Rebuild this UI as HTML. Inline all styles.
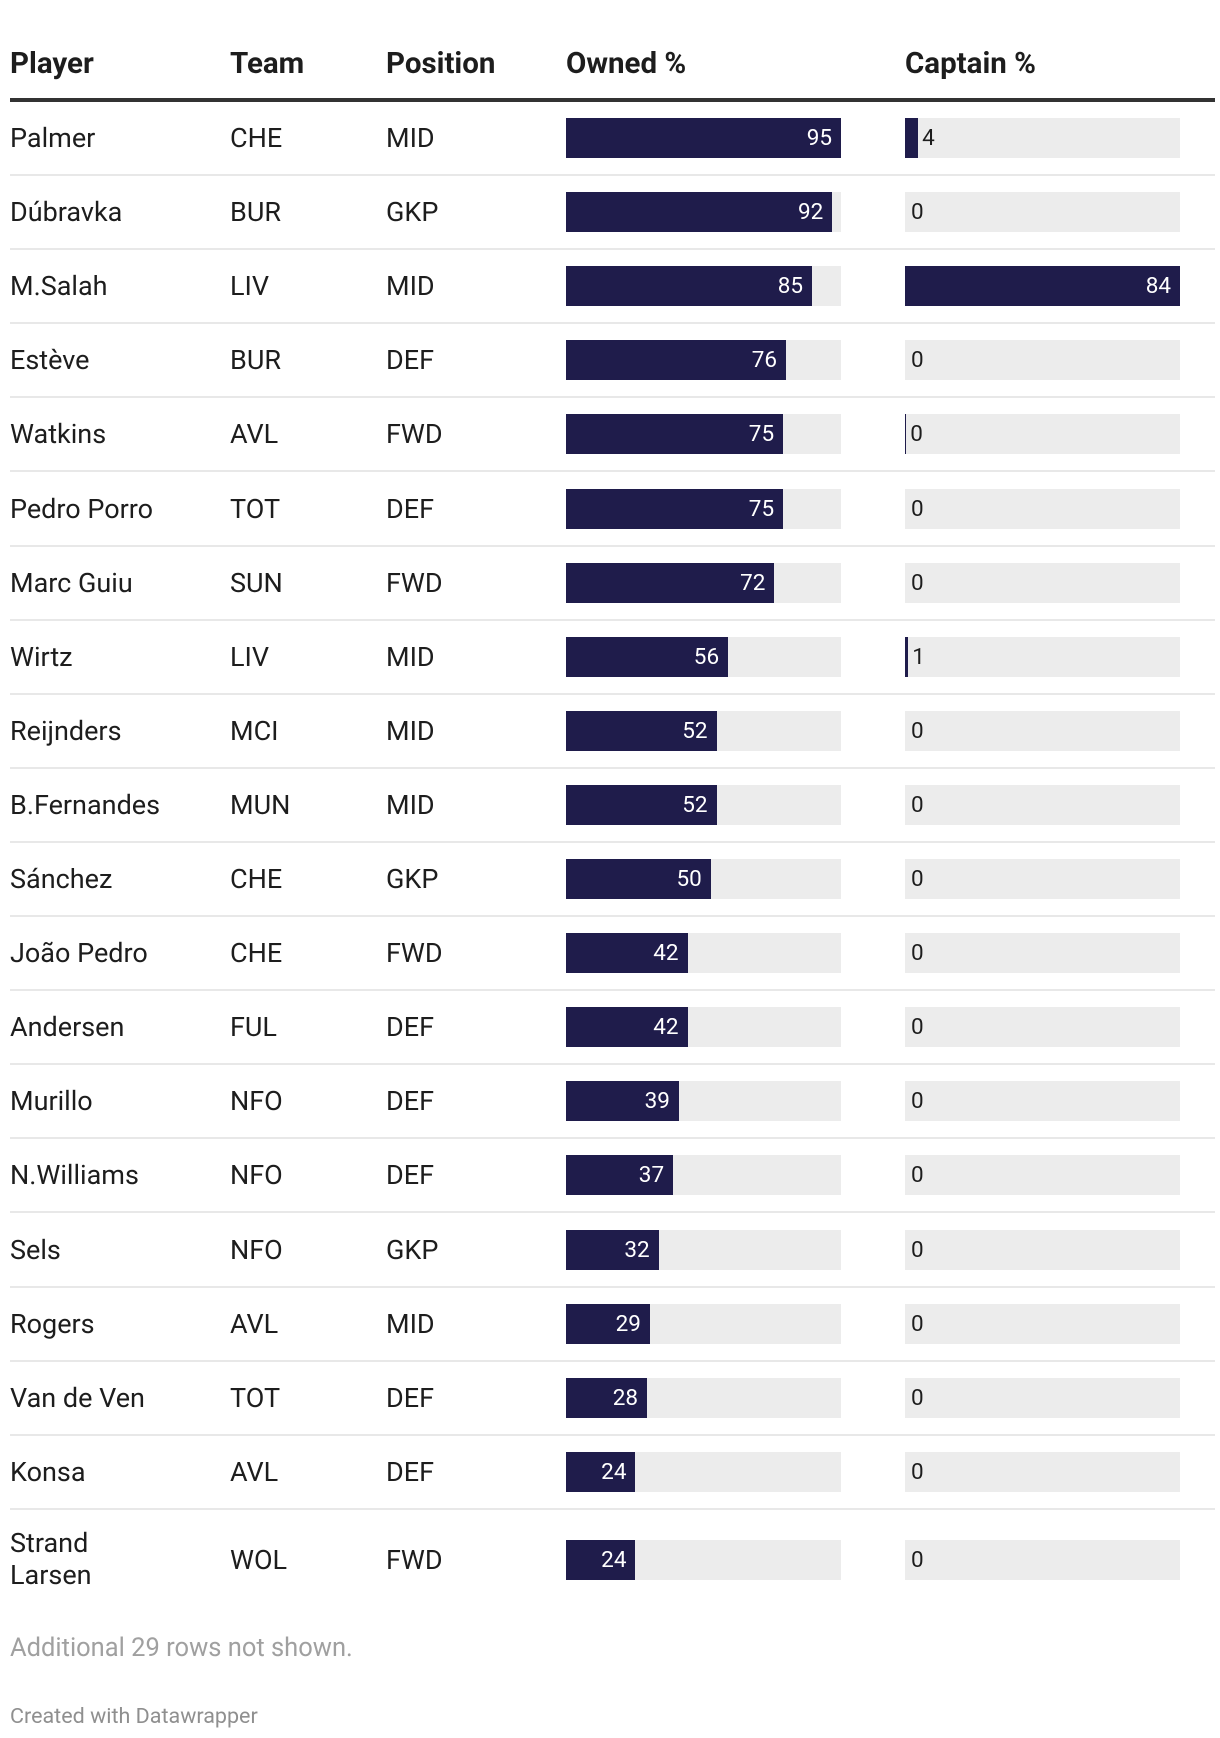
<!DOCTYPE html>
<html><head><meta charset="utf-8"><style>
body{margin:0;width:1220px;height:1738px;background:#fff;font-family:"Roboto","Liberation Sans",sans-serif;color:#1d1d1d;position:relative;overflow:hidden}
.a{position:absolute;white-space:nowrap}
.h{font-weight:bold;font-size:29.5px;top:47px}
.c{font-size:27px;line-height:32px}
.trk{position:absolute;background:#ececec;height:40px}
.bar{position:absolute;background:#1f1c4b;height:40px}
.lbl{position:absolute;font-size:22.5px;line-height:40px}
.div{position:absolute;left:10px;width:1205px;height:2px;background:#e8e8e8}
</style></head><body>
<div class="a h" style="left:10px">Player</div>
<div class="a h" style="left:230px">Team</div>
<div class="a h" style="left:386px">Position</div>
<div class="a h" style="left:566px">Owned %</div>
<div class="a h" style="left:905px">Captain %</div>
<div class="a" style="left:10px;top:98px;width:1205px;height:4px;background:#333"></div>
<div id="rows"></div>
<div class="a" style="left:10px;top:1633px;font-size:25.5px;color:#a0a0a0">Additional 29 rows not shown.</div>
<div class="a" style="left:10px;top:1704px;font-size:21.5px;color:#8f8f8f">Created with Datawrapper</div>
<script>
const players=["Palmer","Dúbravka","M.Salah","Estève","Watkins","Pedro Porro","Marc Guiu","Wirtz","Reijnders","B.Fernandes","Sánchez","João Pedro","Andersen","Murillo","N.Williams","Sels","Rogers","Van de Ven","Konsa","Strand Larsen"];
const teams=["CHE","BUR","LIV","BUR","AVL","TOT","SUN","LIV","MCI","MUN","CHE","CHE","FUL","NFO","NFO","NFO","AVL","TOT","AVL","WOL"];
const positions=["MID","GKP","MID","DEF","FWD","DEF","FWD","MID","MID","MID","GKP","FWD","DEF","DEF","DEF","GKP","MID","DEF","DEF","FWD"];
const owned=[95,92,85,76,75,75,72,56,52,52,50,42,42,39,37,32,29,28,24,24];
const captain=[4,0,84,0,0.4,0,0,1,0,0,0,0,0,0,0,0,0,0,0,0];
const root=document.getElementById('rows');
const W=275,oMax=Math.max(...owned),cMax=Math.max(...captain);
function mk(cls,style,txt){const e=document.createElement('div');e.className=cls;e.style.cssText=style;if(txt!==undefined)e.textContent=txt;root.appendChild(e);return e;}
players.forEach((p,i)=>{
  const last=i===players.length-1;
  const cy=last?1560:138+74.1*i;
  let e;
  if(last){e=mk('a c',`left:10px;top:${cy-33}px`);e.innerHTML='Strand<br>Larsen';}
  else e=mk('a c',`left:10px;top:${cy-16}px`,p);
  
  
  e=mk('a c',`left:230px;top:${cy-16}px`,teams[i]);
  
  
  e=mk('a c',`left:386px;top:${cy-16}px`,positions[i]);
  
  
  [[566,owned[i],oMax,'owned'],[905,captain[i],cMax,'captain']].forEach(([x,v,m,n])=>{
    const t=mk('trk',`left:${x}px;top:${cy-20}px;width:${W}px`);
    
    
    const w=W*v/m;
    const b=mk('bar',`left:${x}px;top:${cy-20}px;width:${w}px`);
    
    
    const txt=String(Math.round(v));
    let l;
    if(w>50) l=mk('lbl',`left:${x}px;width:${w-9}px;top:${cy-20}px;text-align:right;color:#fff`,txt);
    else l=mk('lbl',`left:${x+w+(w>0?4:6)}px;top:${cy-20}px;color:#1d1d1d`,txt);
    
    
  });
  if(!last){const d=mk('div',`top:${cy+36}px`);
    
    }
});
</script>
</body></html>
